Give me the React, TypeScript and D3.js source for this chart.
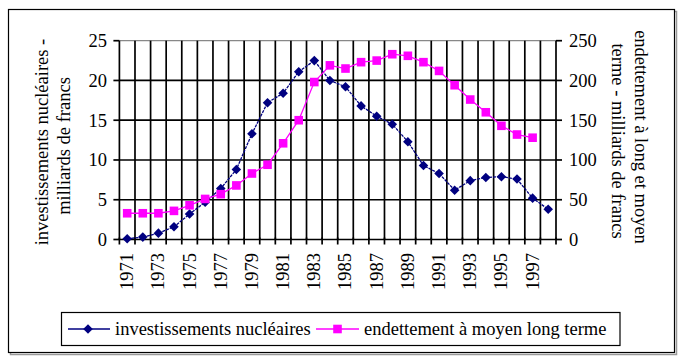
import React from 'react';
import * as d3 from 'd3';

// années 1971 - 1998
const YEARS = [
  '1971', '1972', '1973', '1974', '1975', '1976', '1977', '1978', '1979', '1980',
  '1981', '1982', '1983', '1984', '1985', '1986', '1987', '1988', '1989', '1990',
  '1991', '1992', '1993', '1994', '1995', '1996', '1997', '1998'
];

// investissements nucléaires (milliards de francs, axe gauche)
const NUCLEAIRE = [
  0.1, 0.3, 0.8, 1.6, 3.2, 4.7, 6.4, 8.8, 13.3, 17.2,
  18.4, 21.1, 22.5, 20.0, 19.2, 16.8, 15.5, 14.5, 12.3, 9.3,
  8.3, 6.2, 7.4, 7.8, 7.9, 7.6, 5.2, 3.8
];

// endettement à moyen long terme (milliards de francs, axe droit)
const ENDETTEMENT: (number | null)[] = [
  33, 33, 33, 36, 43, 51, 57, 68, 83, 94,
  121, 150, 198, 219, 215, 223, 225, 233, 231, 223,
  212, 194, 176, 160, 143, 132, 128, null
];

const LEFT_TICKS = [0, 5, 10, 15, 20, 25];
const RIGHT_TICKS = [0, 50, 100, 150, 200, 250];
const YEAR_LABELS = YEARS.filter((_, i) => i % 2 === 0);

const W = 684;
const H = 360;
const BLUE = '#000080';
const PINK = '#FF00FF';
// une seule famille : la liste avec repli n'est pas prise en compte ici
const txt = { fontFamily: 'Liberation Serif', fontSize: 18.5 };

export default function App() {
  const plot = { left: 119.4, right: 556, top: 40.7, bottom: 239.5 };

  const x = d3.scaleBand<string>().domain(YEARS).range([plot.left, plot.right]).padding(0);
  const cx = (y: string) => (x(y) ?? 0) + x.bandwidth() / 2;
  const yL = d3.scaleLinear().domain([0, 25]).range([plot.bottom, plot.top]);
  const yR = d3.scaleLinear().domain([0, 250]).range([plot.bottom, plot.top]);

  const lineL = d3.line<number>().x((_, i) => cx(YEARS[i])).y(d => yL(d));
  const lineR = d3.line<number | null>()
    .defined(d => d != null)
    .x((_, i) => cx(YEARS[i]))
    .y(d => yR(d as number));

  const diamond = d3.symbol(d3.symbolSquare, 46)() || '';
  const square = d3.symbol(d3.symbolSquare, 74)() || '';

  const boundaries = YEARS.slice(1).map(y => x(y) ?? 0);
  const sw = 1.7;

  return (
    <svg width={W} height={H} style={{ position: 'absolute', left: 0, top: 0, background: '#fff' }}>
      {/* cadre du graphique */}
      <rect x={10.5} y={11.5} width={666} height={343} fill="none" stroke="#999" strokeWidth={1.5} />
      <rect x={8.5} y={9.5} width={666} height={343} fill="#fff" stroke="#000" strokeWidth={1.2} />

      {/* grille */}
      {LEFT_TICKS.slice(1, -1).map(t => (
        <line key={'h' + t} x1={plot.left} x2={plot.right} y1={yL(t)} y2={yL(t)} stroke="#000" strokeWidth={sw} />
      ))}
      <line x1={plot.left} x2={plot.right} y1={plot.top} y2={plot.top} stroke="#888" strokeWidth={1.2} />
      {boundaries.map((b, i) => (
        <line key={'v' + i} x1={b} x2={b} y1={plot.top} y2={plot.bottom} stroke="#000" strokeWidth={sw} />
      ))}

      {/* axes */}
      <line x1={plot.left} x2={plot.left} y1={plot.top} y2={plot.bottom} stroke="#000" strokeWidth={sw} />
      <line x1={plot.right} x2={plot.right} y1={plot.top} y2={plot.bottom} stroke="#000" strokeWidth={sw} />
      <line x1={plot.left} x2={plot.right} y1={plot.bottom} y2={plot.bottom} stroke="#000" strokeWidth={sw} />
      {LEFT_TICKS.map(t => (
        <g key={'lt' + t}>
          <line x1={plot.left - 6} x2={plot.left} y1={yL(t)} y2={yL(t)} stroke="#000" strokeWidth={sw} />
          <text x={107} y={yL(t)} dy="0.35em" textAnchor="end" style={txt}>{t}</text>
        </g>
      ))}
      {RIGHT_TICKS.map(t => (
        <g key={'rt' + t}>
          <line x1={plot.right} x2={plot.right + 6} y1={yR(t)} y2={yR(t)} stroke="#000" strokeWidth={sw} />
          <text x={569} y={yR(t)} dy="0.35em" textAnchor="start" style={txt}>{t}</text>
        </g>
      ))}
      {[plot.left, ...boundaries, plot.right].map((b, i) => (
        <line key={'xt' + i} x1={b} x2={b} y1={plot.bottom - 2} y2={plot.bottom + 5} stroke="#000" strokeWidth={sw} />
      ))}
      {YEAR_LABELS.map(y => (
        <text key={'xl' + y} transform={`translate(${cx(y) + 6},253) rotate(-90)`}
          textAnchor="end" style={txt}>{y}</text>
      ))}

      {/* titres d'axes */}
      <text transform="translate(48,142) rotate(-90)" textAnchor="middle" style={txt}>investissements nucléaires -</text>
      <text transform="translate(70,146) rotate(-90)" textAnchor="middle" style={txt}>milliards de francs</text>
      <text transform="translate(635,137) rotate(90)" textAnchor="middle" style={txt}>endettement à long et moyen</text>
      <text transform="translate(612,141) rotate(90)" textAnchor="middle" style={txt}>terme - milliards de francs</text>

      {/* séries */}
      <path d={lineL(NUCLEAIRE) || ''} fill="none" stroke={BLUE} strokeWidth={1.3} strokeDasharray="3,1" />
      {NUCLEAIRE.map((v, i) => (
        <path key={'d' + i} d={diamond} transform={`translate(${cx(YEARS[i])},${yL(v)}) rotate(45)`} fill={BLUE} />
      ))}
      <path d={lineR(ENDETTEMENT) || ''} fill="none" stroke={PINK} strokeWidth={1.3} />
      {ENDETTEMENT.map((v, i) => v == null ? null : (
        <path key={'s' + i} d={square} transform={`translate(${cx(YEARS[i])},${yR(v)})`} fill={PINK} />
      ))}

      {/* légende */}
      <rect x={61.5} y={312.5} width={558.5} height={33} fill="#fff" stroke="#000" strokeWidth={1.2} />
      <line x1={68} x2={110} y1={329} y2={329} stroke={BLUE} strokeWidth={1.3} />
      <path d={diamond} transform="translate(88,329) rotate(45)" fill={BLUE} />
      <text x={115} y={334.5} style={txt}>investissements nucléaires</text>
      <line x1={316} x2={359} y1={329} y2={329} stroke={PINK} strokeWidth={1.3} />
      <path d={square} transform="translate(337.5,329)" fill={PINK} />
      <text x={364} y={334.5} style={txt}>endettement à moyen long terme</text>
    </svg>
  );
}
